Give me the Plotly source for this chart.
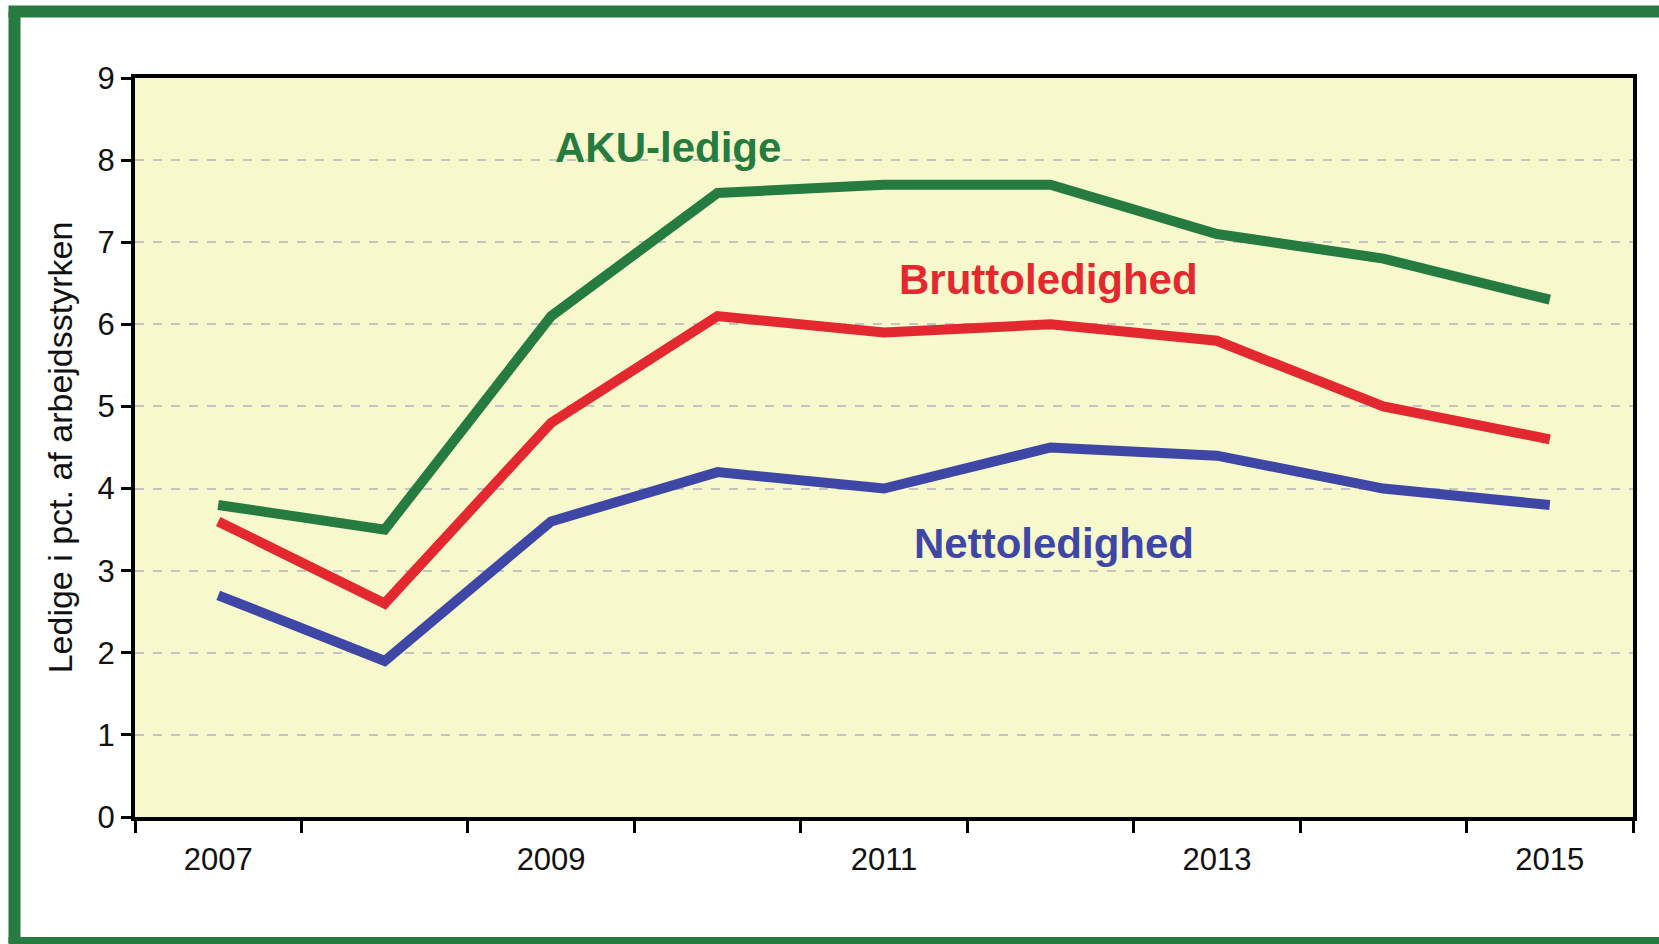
import plotly.graph_objects as go

years = [2007, 2008, 2009, 2010, 2011, 2012, 2013, 2014, 2015]
aku_ledige = [3.8, 3.5, 6.1, 7.6, 7.7, 7.7, 7.1, 6.8, 6.3]
bruttoledighed = [3.6, 2.6, 4.8, 6.1, 5.9, 6.0, 5.8, 5.0, 4.6]
nettoledighed = [2.7, 1.9, 3.6, 4.2, 4.0, 4.5, 4.4, 4.0, 3.8]
x_tick_labels = [2007, 2009, 2011, 2013, 2015]
y_ticks = [0, 1, 2, 3, 4, 5, 6, 7, 8, 9]

GREEN = "#267B41"
RED = "#E3292F"
BLUE = "#3F47A6"

W, H = 1659, 944
ML, MR, MT, MB = 135, 26, 78, 127
PW, PH = W - ML - MR, H - MT - MB

fig = go.Figure()
for name, vals, col in [("AKU-ledige", aku_ledige, GREEN),
                        ("Bruttoledighed", bruttoledighed, RED),
                        ("Nettoledighed", nettoledighed, BLUE)]:
    fig.add_trace(go.Scatter(x=years, y=vals, mode="lines", name=name,
                             line=dict(color=col, width=10), showlegend=False,
                             hoverinfo="skip"))

labels = [("AKU-ledige", 2009.70, 8.15, GREEN),
          ("Bruttoledighed", 2011.99, 6.55, RED),
          ("Nettoledighed", 2012.02, 3.33, BLUE)]
for txt, xx, yy, col in labels:
    fig.add_annotation(x=xx, y=yy, text=txt, showarrow=False,
                       font=dict(family="Liberation Sans, Arial", size=42, color=col),
                       xanchor="center", yanchor="middle")
fig.update_annotations(font_weight="bold")

# green frame (top, left, bottom sides) around the figure
def px_to_paper_x(px):
    return (px - ML) / PW

def px_to_paper_y(py):
    return (H - MB - py) / PH

xl, xr = px_to_paper_x(14.5), px_to_paper_x(W + 2)
yt, yb = px_to_paper_y(11.5), px_to_paper_y(943)
for x0, y0, x1, y1 in [(xl - 6 / PW, yt, xr, yt),
                       (xl, yt, xl, yb),
                       (xl - 6 / PW, yb, xr, yb)]:
    fig.add_shape(type="line", xref="paper", yref="paper",
                  x0=x0, y0=y0, x1=x1, y1=y1,
                  line=dict(color=GREEN, width=12), layer="below")

fig.update_layout(
    width=W, height=H,
    margin=dict(l=ML, r=MR, t=MT, b=MB),
    paper_bgcolor="white",
    plot_bgcolor="#F7F8CB",
    font=dict(family="Liberation Sans, Arial", color="#111111"),
    xaxis=dict(
        range=[2006.5, 2015.5],
        tickmode="array", tickvals=x_tick_labels,
        ticktext=[str(v) for v in x_tick_labels],
        ticks="outside", ticklen=12, tickcolor="rgba(0,0,0,0)",
        tickfont=dict(size=31),
        minor=dict(tick0=2006.5, dtick=1, ticks="outside", ticklen=12,
                   tickwidth=3, tickcolor="black", showgrid=False),
        showgrid=False, zeroline=False,
        showline=True, linecolor="black", linewidth=4, mirror=True,
    ),
    yaxis=dict(
        range=[0, 9], tickmode="array", tickvals=y_ticks,
        ticks="outside", ticklen=10, tickwidth=3, tickcolor="black",
        tickfont=dict(size=31),
        showgrid=True, gridcolor="#C4C4C4", griddash="dash", gridwidth=1.5,
        zeroline=False,
        showline=True, linecolor="black", linewidth=4, mirror=True,
        title=dict(text="Ledige i pct. af arbejdsstyrken",
                   font=dict(size=34, color="#111111"), standoff=16),
    ),
)

fig.write_html(
    "out.html", config={"displayModeBar": False},
    post_script=("document.body.style.margin='0';"
                 "document.body.style.overflow='hidden';"
                 "document.documentElement.style.overflow='hidden';"))
